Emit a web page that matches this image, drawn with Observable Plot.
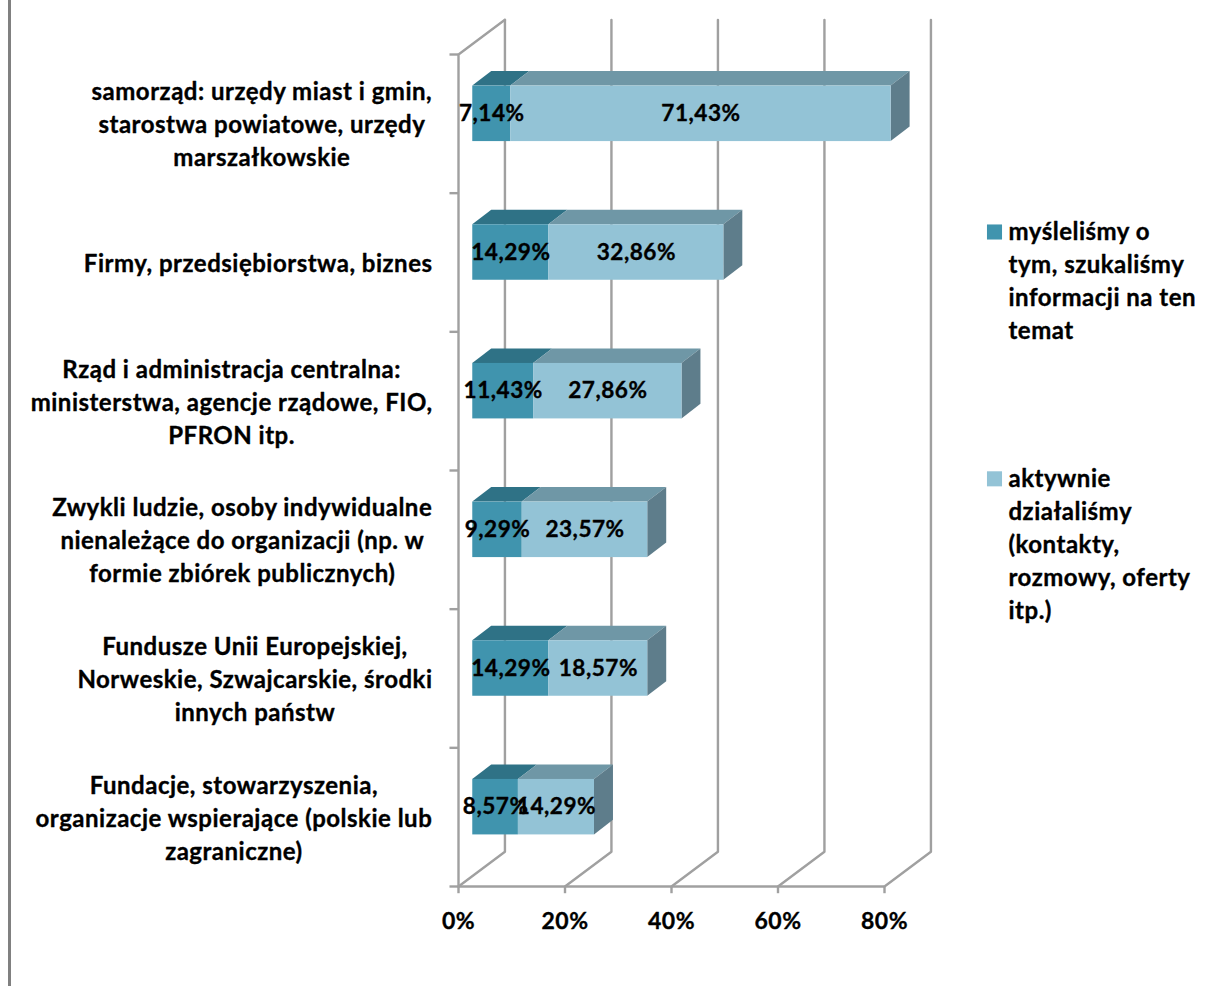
<!DOCTYPE html>
<html><head><meta charset="utf-8">
<style>html,body{margin:0;padding:0;background:#fff}#c{position:relative;width:1208px;height:986px;overflow:hidden}
#c::before{content:"";position:absolute;left:8px;top:0;bottom:0;width:2.5px;background:#808080}</style>
<script src="https://cdn.jsdelivr.net/npm/d3@7"></script>
<script src="https://cdn.jsdelivr.net/npm/@observablehq/plot@0.6"></script>
</head><body><div id="c"></div>
<script>
const categories = [
  "Fundacje, stowarzyszenia,\norganizacje wspierające (polskie lub\nzagraniczne)",
  "Fundusze Unii Europejskiej,\nNorweskie, Szwajcarskie, środki\ninnych państw",
  "Zwykli ludzie, osoby indywidualne\nnienależące do organizacji (np. w\nformie zbiórek publicznych)",
  "Rząd i administracja centralna:\nministerstwa, agencje rządowe, FIO,\nPFRON itp.",
  "Firmy, przedsiębiorstwa, biznes",
  "samorząd: urzędy miast i gmin,\nstarostwa powiatowe, urzędy\nmarszałkowskie"
];
const thinking = [8.57, 14.29, 9.29, 11.43, 14.29, 7.14];
const active = [14.29, 18.57, 23.57, 27.86, 32.86, 71.43];
const xTicks = [0, 20, 40, 60, 80];
const legendItems = ["myśleliśmy o\ntym, szukaliśmy\ninformacji na ten\ntemat", "aktywnie\ndziałaliśmy\n(kontakty,\nrozmowy, oferty\nitp.)"];
const colors = {front: ["#4094ae", "#93c3d6"], top: ["#2f7286", "#6f97a6"], side: "#5e7d8b"};

const FONT = "Lato, Carlito, sans-serif", FS = 24, NUM = 22.6, LS = 0.5;
const pct = v => v.toFixed(2).replace(".", ",") + "%";
// depth of the pseudo-3D box, in data units
const wallX = 8.72, wallY = 0.25, barOffX = 2.68, barOffY = 0.072, barDX = 3.56, barDY = 0.105, barH = 0.2;

const segs = [];
categories.forEach((c, i) => {
  const y0 = i + 0.5 + barOffY;
  segs.push({i, s: 0, a: barOffX, b: barOffX + thinking[i], v: thinking[i], y0});
  segs.push({i, s: 1, a: barOffX + thinking[i], b: barOffX + thinking[i] + active[i], v: active[i], y0});
});
const topFaces = segs.flatMap(d => [
  {k: `${d.i}-${d.s}`, s: d.s, x1: d.a, x2: d.b, y: d.y0 + barH},
  {k: `${d.i}-${d.s}`, s: d.s, x1: d.a + barDX, x2: d.b + barDX, y: d.y0 + barH + barDY}
]);
const sideFaces = segs.filter(d => d.s === 1).flatMap(d => [
  {k: d.i, x: d.b, y1: d.y0 - barH, y2: d.y0 + barH},
  {k: d.i, x: d.b + barDX, y1: d.y0 - barH + barDY, y2: d.y0 + barH + barDY}
]);
const walls = xTicks.flatMap(t => [
  {t, x: t, y: 0},
  {t, x: t + wallX, y: wallY},
  {t, x: t + wallX, y: 6 + wallY}
]);
const leftWall = [{x: 0, y: 0}, {x: 0, y: 6}, {x: wallX, y: 6 + wallY}];

const ctx = document.createElement("canvas").getContext("2d");
ctx.font = `bold ${FS}px ${FONT}`;
ctx.letterSpacing = LS + "px";
const blockW = s => d3.max(s.split("\n"), l => ctx.measureText(l).width);
const GRID = "#a0a0a0";
const heavy = {fill: "#000", stroke: "#000", strokeWidth: 0.35};

const plot = Plot.plot({
  width: 1208, height: 986,
  marginLeft: 458, marginRight: 1208 - 884, marginTop: 54, marginBottom: 986 - 886,
  x: {type: "linear", domain: [0, 80], axis: null},
  y: {type: "linear", domain: [0, 6], axis: null},
  style: {fontFamily: FONT, fontWeight: "bold", fontSize: FS + "px", letterSpacing: LS + "px", color: "#000", background: "transparent"},
  marks: [
    Plot.line(walls, {x: "x", y: "y", z: "t", stroke: GRID, strokeWidth: 2.4, curve: "linear"}),
    Plot.line(leftWall, {x: "x", y: "y", stroke: GRID, strokeWidth: 2.4, curve: "linear"}),
    Plot.ruleY([0], {x1: 0, x2: 80, stroke: GRID, strokeWidth: 2.4}),
    Plot.ruleY(d3.range(0, 7), {x1: -1.6, x2: 0, stroke: GRID, strokeWidth: 2.4}),
    Plot.ruleX(xTicks, {y1: -0.052, y2: 0, stroke: GRID, strokeWidth: 2.4}),
    Plot.areaX(topFaces, {x1: "x1", x2: "x2", y: "y", z: "k", fill: d => colors.top[d.s], curve: "linear"}),
    Plot.areaY(sideFaces, {x: "x", y1: "y1", y2: "y2", z: "k", fill: colors.side, curve: "linear"}),
    Plot.rect(segs, {x1: "a", x2: "b", y1: d => d.y0 - barH, y2: d => d.y0 + barH, fill: d => colors.front[d.s]}),
    Plot.text(segs, {x: d => (d.a + d.b) / 2, y: "y0", text: d => pct(d.v), fontSize: NUM, ...heavy}),
    ...categories.map((c, i) => Plot.text([c], {
      x: 0, y: i + 0.5, text: d => d, textAnchor: "middle", lineHeight: 1.375,
      dx: -26 - blockW(c) / 2, dy: -1, ...heavy
    })),
    Plot.text(xTicks, {x: d => d, y: 0, dy: 35, text: d => d + "%", fontSize: 23, ...heavy}),
    Plot.dot(legendItems, {x: 80, y: (d, i) => i === 0 ? 4.72 : 2.94, symbol: "square", r: 8.5, dx: 110, fill: (d, i) => colors.front[i]}),
    Plot.text(legendItems, {x: 80, y: (d, i) => i === 0 ? 4.72 : 2.94, dx: 124, dy: -15, text: d => d, textAnchor: "start", lineAnchor: "top", lineHeight: 1.375, ...heavy})
  ]
});
document.getElementById("c").appendChild(plot);
</script></body></html>
